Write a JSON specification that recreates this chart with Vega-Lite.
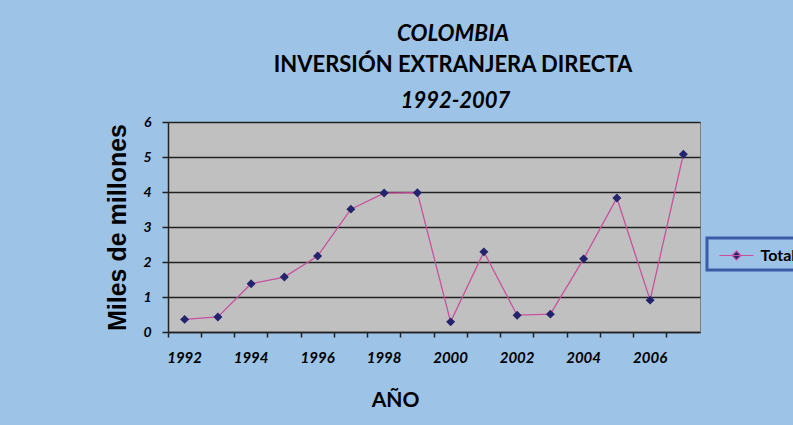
{
  "$schema": "https://vega.github.io/schema/vega-lite/v6.json",
  "width": 532,
  "height": 210,
  "autosize": {"type": "none"},
  "padding": {"left": 168, "top": 122, "right": 93, "bottom": 93},
  "background": "#9DC3E6",
  "title": {
    "text": "COLOMBIA",
    "subtitle": "INVERSIÓN EXTRANJERA DIRECTA",
    "anchor": "middle",
    "frame": "group",
    "dx": 19,
    "offset": 13,
    "font": "Lato",
    "fontSize": 22.5,
    "fontStyle": "italic",
    "fontWeight": "bold",
    "color": "#000000",
    "subtitleFont": "Lato",
    "subtitleFontSize": 22,
    "subtitleFontWeight": "bold",
    "subtitleFontStyle": "normal",
    "subtitleColor": "#000000",
    "subtitlePadding": 10
  },
  "data": {
    "values": [
      {"year": 1992, "valor": 0.36, "serie": "Total"},
      {"year": 1993, "valor": 0.43, "serie": "Total"},
      {"year": 1994, "valor": 1.38, "serie": "Total"},
      {"year": 1995, "valor": 1.57, "serie": "Total"},
      {"year": 1996, "valor": 2.17, "serie": "Total"},
      {"year": 1997, "valor": 3.51, "serie": "Total"},
      {"year": 1998, "valor": 3.97, "serie": "Total"},
      {"year": 1999, "valor": 3.98, "serie": "Total"},
      {"year": 2000, "valor": 0.29, "serie": "Total"},
      {"year": 2001, "valor": 2.29, "serie": "Total"},
      {"year": 2002, "valor": 0.48, "serie": "Total"},
      {"year": 2003, "valor": 0.51, "serie": "Total"},
      {"year": 2004, "valor": 2.09, "serie": "Total"},
      {"year": 2005, "valor": 3.83, "serie": "Total"},
      {"year": 2006, "valor": 0.91, "serie": "Total"},
      {"year": 2007, "valor": 5.08, "serie": "Total"}
    ]
  },
  "encoding": {
    "y": {
      "field": "valor",
      "type": "quantitative",
      "scale": {"domain": [0, 6], "nice": false, "zero": true},
      "axis": {
        "title": "Miles de millones",
        "titleFont": "Liberation Sans",
        "titleFontSize": 25,
        "titleFontWeight": "bold",
        "titleColor": "#000000",
        "titleAngle": -90,
        "titleBaseline": "alphabetic",
        "titleAlign": "center",
        "titleX": -43,
        "titleY": 105,
        "values": [0, 1, 2, 3, 4, 5, 6],
        "labelFont": "Lato",
        "labelFontSize": 14,
        "labelFontWeight": "bold",
        "labelFontStyle": "italic",
        "labelColor": "#000000",
        "labelPadding": 11,
        "tickSize": 6,
        "tickColor": "#222222",
        "tickWidth": 1.5,
        "domainColor": "#222222",
        "domainWidth": 1.5,
        "grid": true,
        "gridColor": "#222222",
        "gridWidth": 1.6
      }
    }
  },
  "layer": [
    {
      "mark": {"type": "line", "strokeWidth": 1.3},
      "encoding": {
        "x": {
          "field": "year",
          "type": "ordinal",
          "scale": {"type": "band", "paddingInner": 0, "paddingOuter": 0},
          "axis": {
            "orient": "bottom",
            "title": "AÑO",
            "titleFont": "Lato",
            "titleFontSize": 21,
            "titleFontWeight": "bold",
            "titleColor": "#000000",
            "titleBaseline": "alphabetic",
            "titleAlign": "center",
            "titleX": 227,
            "titleY": 74,
            "bandPosition": 0,
            "labelAngle": 0,
            "labelOverlap": false,
            "labelExpr": "datum.value % 2 == 0 ? datum.label : ''",
            "labelFont": "Lato",
            "labelFontSize": 15,
            "labelFontWeight": "bold",
            "labelFontStyle": "italic",
            "labelColor": "#000000",
            "labelBaseline": "alphabetic",
            "labelPadding": 25,
            "tickSize": 5,
            "tickColor": "#222222",
            "tickWidth": 1.5,
            "domainColor": "#222222",
            "domainWidth": 1.5,
            "grid": false
          }
        },
        "color": {
          "field": "serie",
          "type": "nominal",
          "scale": {"range": ["#C9509F"]},
          "legend": {
            "title": null,
            "orient": "none",
            "legendX": 539,
            "legendY": 116,
            "padding": 6.5,
            "strokeColor": "#3A5BA8",
            "fillColor": "#9DC3E6",
            "symbolType": "M-1.7,0H1.7M0,-0.45L0.45,0L0,0.45L-0.45,0Z",
            "symbolSize": 400,
            "symbolOffset": 12,
            "symbolStrokeWidth": 1.2,
            "labelFont": "Lato",
            "labelFontSize": 16,
            "labelFontWeight": "bold",
            "labelColor": "#000000",
            "labelOffset": 13,
            "labelExpr": "datum.label + '          '",
            "encode": {
              "legend": {"update": {"stroke": {"value": "#3A5BA8"}, "strokeWidth": {"value": 3}}},
              "symbols": {"update": {"fill": {"value": "#23236E"}, "stroke": {"value": "#C9509F"}, "strokeWidth": {"value": 1.2}}}
            }
          }
        }
      }
    },
    {
      "mark": {"type": "point", "shape": "diamond", "filled": true, "size": 80, "color": "#23236E", "opacity": 1},
      "encoding": {
        "x": {
          "field": "year",
          "type": "ordinal",
          "scale": {"type": "band", "paddingInner": 0, "paddingOuter": 0},
          "axis": {
            "orient": "top",
            "title": "1992-2007",
            "titleFont": "Lato",
            "titleFontSize": 22,
            "titleFontWeight": "bold",
            "titleFontStyle": "italic",
            "titleColor": "#000000",
            "titleBaseline": "alphabetic",
            "titleAlign": "center",
            "titleX": 287,
            "titleY": -15,
            "labels": false,
            "ticks": false,
            "domain": false,
            "grid": false
          }
        }
      }
    }
  ],
  "resolve": {"axis": {"x": "independent"}},
  "config": {
    "view": {"fill": "#C0C0C0", "stroke": "#808080", "strokeWidth": 1}
  }
}
